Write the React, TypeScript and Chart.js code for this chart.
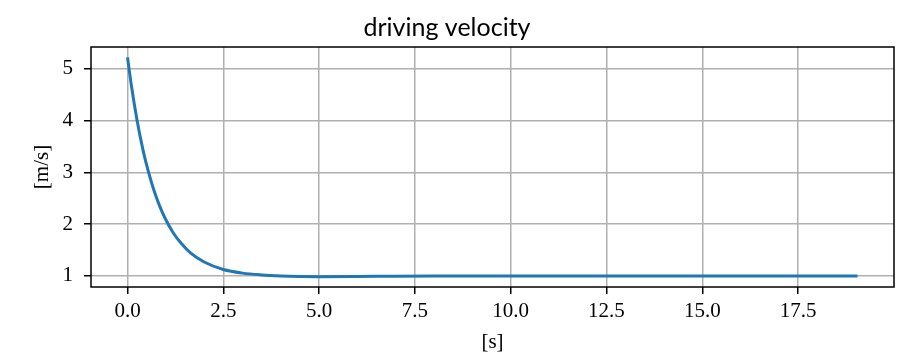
import React, { useEffect, useRef } from "react";
import { Chart, registerables } from "chart.js";

Chart.register(...registerables);

const TITLE = "driving velocity";
const X_LABEL = "[s]";
const Y_LABEL = "[m/s]";

const timeValues = [
  0, 0.1, 0.25, 0.4, 0.55, 0.7, 0.85, 1.0, 1.2, 1.4, 1.65, 2.0, 2.5, 3.0,
  3.5, 4.0, 4.5, 5.0, 6.0, 7.0, 8.0, 10.0, 12.0, 14.0, 16.0, 18.0, 19.05,
];
const velocityValues = [
  5.22, 4.68, 4.0, 3.445, 3.0, 2.63, 2.33, 2.085, 1.825, 1.63, 1.44, 1.27,
  1.125, 1.055, 1.02, 1.0, 0.99, 0.987, 0.99, 0.995, 0.998, 1.0, 1.0, 1.0,
  1.0, 1.0, 1.0,
];
const xTicks = [0, 2.5, 5, 7.5, 10, 12.5, 15, 17.5];
const yTicks = [1, 2, 3, 4, 5];

const SERIF = "'Liberation Serif', 'DejaVu Serif', serif";

const boxPlugin = {
  id: "boxPlugin",
  afterDatasetsDraw(chart: any) {
    const { ctx, chartArea } = chart;
    ctx.save();
    ctx.strokeStyle = "#000";
    ctx.lineWidth = 1.5;
    ctx.strokeRect(
      chartArea.left,
      chartArea.top,
      chartArea.right - chartArea.left,
      chartArea.bottom - chartArea.top
    );
    ctx.restore();
  },
};

export default function App() {
  const ref = useRef<HTMLCanvasElement | null>(null);

  useEffect(() => {
    document.body.style.margin = "0";
    const canvas = ref.current;
    if (!canvas) return;
    const data = timeValues.map((t, i) => ({ x: t, y: velocityValues[i] }));
    const chart = new Chart(canvas, {
      type: "line",
      data: {
        datasets: [
          {
            data,
            borderColor: "#1f77b4",
            borderWidth: 3,
            pointRadius: 0,
            fill: false,
            cubicInterpolationMode: "monotone",
          },
        ],
      },
      plugins: [boxPlugin],
      options: {
        animation: false,
        responsive: false,
        devicePixelRatio: 1,
        layout: { padding: { left: 0, right: 8, top: 0, bottom: 0 } },
        plugins: {
          legend: { display: false },
          tooltip: { enabled: false },
          title: {
            display: true,
            text: TITLE,
            color: "#000",
            font: { family: "Lato, 'Open Sans', sans-serif", size: 25, weight: "normal", lineHeight: 1 },
            padding: { top: 15, bottom: 7 },
          },
        },
        scales: {
          x: {
            type: "linear",
            min: -0.953,
            max: 20.003,
            afterBuildTicks: (scale: any) => {
              scale.ticks = xTicks.map((v) => ({ value: v }));
            },
            afterFit: (scale: any) => {
              scale.height = 68;
            },
            ticks: {
              color: "#000",
              font: { family: SERIF, size: 21, lineHeight: 1.2 },
              padding: 5,
              maxRotation: 0,
              autoSkip: false,
              callback: (v: any) => Number(v).toFixed(1),
            },
            grid: {
              color: "#b0b0b0",
              lineWidth: 1.5,
              drawTicks: true,
              tickLength: 7,
              tickColor: "#000",
              tickWidth: 1.5,
            },
            border: { display: false },
            title: {
              display: true,
              text: X_LABEL,
              color: "#000",
              font: { family: SERIF, size: 21, lineHeight: 1.2 },
              padding: { top: -1, bottom: 0 },
            },
          },
          y: {
            type: "linear",
            min: 0.787,
            max: 5.42,
            afterBuildTicks: (scale: any) => {
              scale.ticks = yTicks.map((v) => ({ value: v }));
            },
            afterFit: (scale: any) => {
              scale.width = 91;
            },
            ticks: {
              color: "#000",
              font: { family: SERIF, size: 21, lineHeight: 1.2 },
              padding: 11,
              autoSkip: false,
              callback: (v: any) => String(v),
            },
            grid: {
              color: "#b0b0b0",
              lineWidth: 1.5,
              drawTicks: true,
              tickLength: 7,
              tickColor: "#000",
              tickWidth: 1.5,
            },
            border: { display: false },
            title: {
              display: true,
              text: Y_LABEL,
              color: "#000",
              font: { family: SERIF, size: 21, lineHeight: 1.2 },
              padding: { top: 30, bottom: 0 },
            },
          },
        },
      },
    } as any);
    return () => chart.destroy();
  }, []);

  return (
    <div style={{ width: 902, height: 355 }}>
      <canvas ref={ref} width={902} height={355} style={{ display: "block" }} />
    </div>
  );
}
